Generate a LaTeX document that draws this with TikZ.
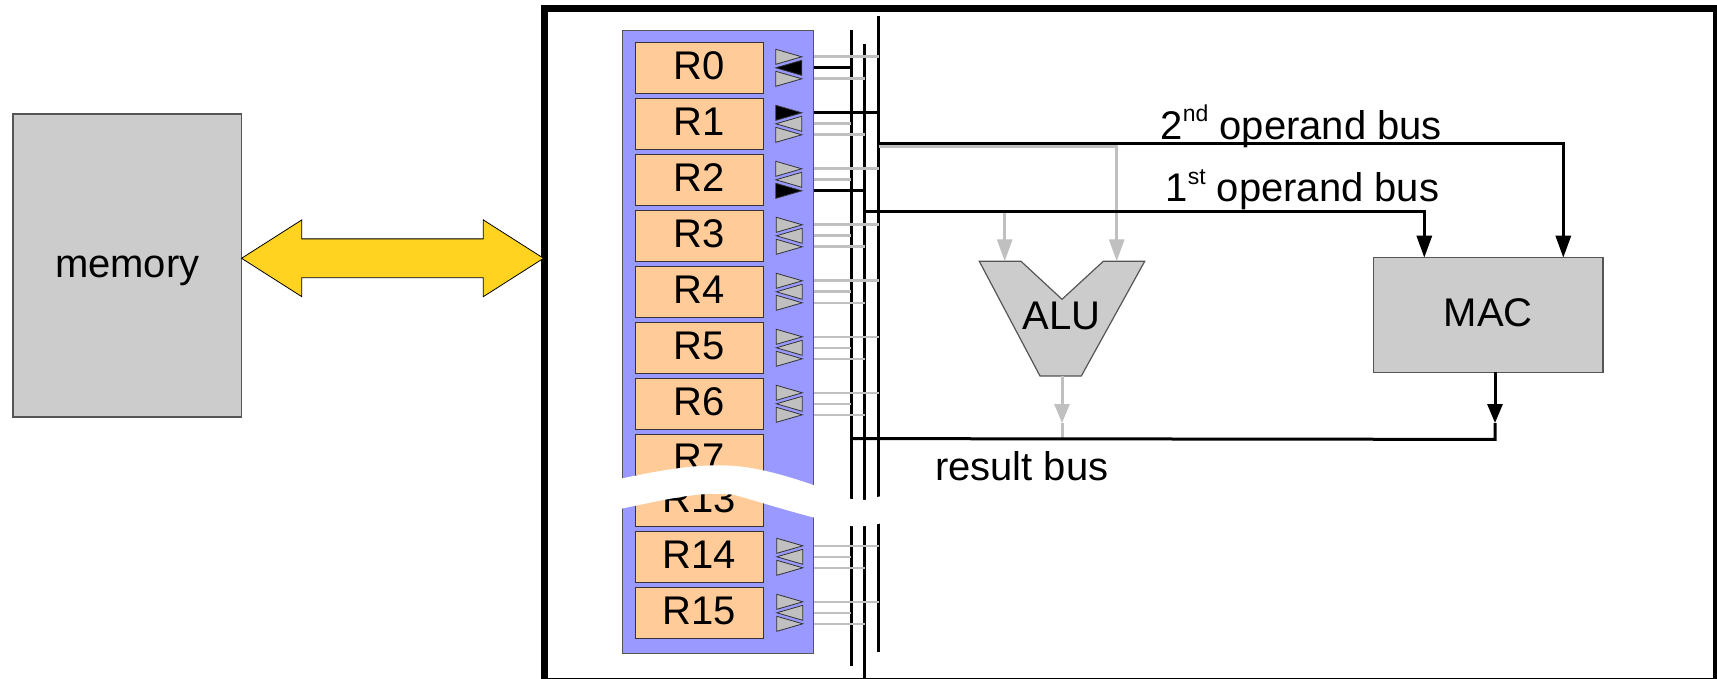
\documentclass[tikz,border=0pt]{standalone}
\usepackage{xcolor}
\usepackage{fontspec}
\setmainfont{Liberation Sans}
\usepackage{tikz}
\usetikzlibrary{positioning, arrows.meta, shapes.geometric, shapes.arrows}
\definecolor{regBlue}{HTML}{9999FF}
\definecolor{regOrange}{HTML}{FFCC99}
\definecolor{unitGray}{HTML}{CCCCCC}
\definecolor{busGray}{HTML}{C0C0C0}
\definecolor{portYellow}{HTML}{FFD320}
\definecolor{edgeGray}{HTML}{555555}

\begin{document}
\begin{tikzpicture}[
      x=1pt, y=-1pt,
      every node/.style={font=\fontsize{40}{48}\selectfont, inner sep=0pt, outer sep=0pt},
      chip/.style={rectangle, draw=black, line width=7pt, minimum width=1172pt, minimum height=672pt},
      unit/.style={rectangle, draw=edgeGray, line width=1.2pt, fill=unitGray},
      regs/.style={rectangle, draw=edgeGray, line width=1pt, fill=regBlue, minimum width=191.3pt, minimum height=623pt},
      reg/.style={rectangle, draw=black!80, line width=1pt, fill=regOrange, minimum width=128pt, minimum height=51pt,
                  text height=29pt, text depth=6.5pt},
      tri/.style={isosceles triangle, isosceles triangle stretches, draw=black!80, line width=0.8pt, fill=busGray,
                  minimum width=15pt, minimum height=26pt},
      trion/.style={tri, fill=black},
      tril/.style={tri, shape border rotate=180},
      trilon/.style={tril, fill=black},
      bus/.style={black, line width=3pt},
      busgray/.style={busGray, line width=3pt},
      wire/.style={busGray, line width=2.6pt},
      wireon/.style={black, line width=2.6pt},
      arr/.style={-{Triangle[length=22pt, width=15pt]}, black, line width=3pt},
      arrlow/.style={arr, -{Triangle[length=19pt, width=15pt]}},
      arrgray/.style={-{Triangle[length=22pt, width=15pt]}, busGray, line width=3pt},
      arrgraylow/.style={arrgray, -{Triangle[length=19pt, width=15pt]}},
      memarrow/.style={double arrow, double arrow head extend=19pt, double arrow tip angle=65, double arrow head indent=0pt,
                       draw=black, line width=0.8pt, fill=portYellow, text height=38pt, text depth=0pt, minimum height=302pt},
    ]
      \useasboundingbox (0,0) rectangle (1717,679);

      \node[chip] (chip) at (1130.4,345) {};
      \node[unit, minimum width=228.5pt, minimum height=303pt, text height=33pt, text depth=9pt] (memory) at (127.3,265.5) {memory};
      \node[memarrow, right=0pt of memory, yshift=7.2pt] (port) {};

      % register block
      \node[regs] (regfile) at (718.3,341.6) {};
      \node[reg] (r0) at (699.3,67.8) {R0};
      \node[reg, below=5pt of r0] (r1) {R1};
      \node[reg, below=5pt of r1] (r2) {R2};
      \node[reg, below=5pt of r2] (r3) {R3};
      \node[reg, below=5pt of r3] (r4) {R4};
      \node[reg, below=5pt of r4] (r5) {R5};
      \node[reg, below=5pt of r5] (r6) {R6};
      \node[reg, below=5pt of r6] (r7) {R7};
      \node[reg, below=-10pt of r7] (r13) {R13};
      \node[reg, below=5pt of r13] (r14) {R14};
      \node[reg, below=5pt of r14] (r15) {R15};

      % the three buses
      \coordinate (busatop) at (851,30);
      \coordinate (busaend) at (851,666);
      \coordinate (busbtop) at (864.7,44);
      \coordinate (busbend) at (864.7,690);
      \coordinate (busctop) at (878.7,16);
      \coordinate (buscend) at (878.7,652);
      \draw[bus] (busatop) -- (busaend);
      \draw[bus] (busbtop) -- (busbend);
      \draw[bus] (busctop) -- (buscend);

      % register outputs
      \node[tri, right=12.5pt of r0.east, yshift=11pt] (t0a) {};
      \node[trilon, right=12.5pt of r0.east] (t0b) {};
      \node[tri, right=12.5pt of r0.east, yshift=-11pt] (t0c) {};
      \node[trion, right=12.5pt of r1.east, yshift=11pt] (t1a) {};
      \node[tril, right=12.5pt of r1.east] (t1b) {};
      \node[tri, right=12.5pt of r1.east, yshift=-11pt] (t1c) {};
      \node[tri, right=12.5pt of r2.east, yshift=11pt] (t2a) {};
      \node[tril, right=12.5pt of r2.east] (t2b) {};
      \node[trion, right=12.5pt of r2.east, yshift=-11pt] (t2c) {};
      \node[tri, right=13pt of r3.east, yshift=11pt] (t3a) {};
      \node[tril, right=13pt of r3.east] (t3b) {};
      \node[tri, right=13pt of r3.east, yshift=-11pt] (t3c) {};
      \node[tri, right=13pt of r4.east, yshift=11pt] (t4a) {};
      \node[tril, right=13pt of r4.east] (t4b) {};
      \node[tri, right=13pt of r4.east, yshift=-11pt] (t4c) {};
      \node[tri, right=13pt of r5.east, yshift=11pt] (t5a) {};
      \node[tril, right=13pt of r5.east] (t5b) {};
      \node[tri, right=13pt of r5.east, yshift=-11pt] (t5c) {};
      \node[tri, right=13pt of r6.east, yshift=11pt] (t6a) {};
      \node[tril, right=13pt of r6.east] (t6b) {};
      \node[tri, right=13pt of r6.east, yshift=-11pt] (t6c) {};
      \node[tri, right=13.5pt of r14.east, yshift=11pt] (t14a) {};
      \node[tril, right=13.5pt of r14.east] (t14b) {};
      \node[tri, right=13.5pt of r14.east, yshift=-11pt] (t14c) {};
      \node[tri, right=13.5pt of r15.east, yshift=11pt] (t15a) {};
      \node[tril, right=13.5pt of r15.east] (t15b) {};
      \node[tri, right=13.5pt of r15.east, yshift=-11pt] (t15c) {};

      % wires to the buses, grey first
      \draw[wire] (regfile.east |- t0a) -- (busctop |- t0a) (regfile.east |- t0c) -- (busbtop |- t0c);
      \draw[wire] (regfile.east |- t1b) -- (busatop |- t1b) (regfile.east |- t1c) -- (busbtop |- t1c);
      \draw[wire] (regfile.east |- t2a) -- (busctop |- t2a) (regfile.east |- t2b) -- (busatop |- t2b);
      \draw[wire] (regfile.east |- t3a) -- (busctop |- t3a) (regfile.east |- t3b) -- (busatop |- t3b) (regfile.east |- t3c) -- (busbtop |- t3c);
      \draw[wire] (regfile.east |- t4a) -- (busctop |- t4a) (regfile.east |- t4b) -- (busatop |- t4b) (regfile.east |- t4c) -- (busbtop |- t4c);
      \draw[wire] (regfile.east |- t5a) -- (busctop |- t5a) (regfile.east |- t5b) -- (busatop |- t5b) (regfile.east |- t5c) -- (busbtop |- t5c);
      \draw[wire] (regfile.east |- t6a) -- (busctop |- t6a) (regfile.east |- t6b) -- (busatop |- t6b) (regfile.east |- t6c) -- (busbtop |- t6c);
      \draw[wire] (regfile.east |- t14a) -- (busctop |- t14a) (regfile.east |- t14b) -- (busatop |- t14b) (regfile.east |- t14c) -- (busbtop |- t14c);
      \draw[wire] (regfile.east |- t15a) -- (busctop |- t15a) (regfile.east |- t15b) -- (busatop |- t15b) (regfile.east |- t15c) -- (busbtop |- t15c);
      \draw[wireon] (regfile.east |- t0b) -- (busatop |- t0b);
      \draw[wireon] (regfile.east |- t1a) -- (busctop |- t1a);
      \draw[wireon] (regfile.east |- t2c) -- (busbtop |- t2c);

      % ALU
      \draw[unit] (979.3,261.3) -- (1021,261.3) -- (1062,299.3) -- (1103.3,261.3) -- (1144.7,261.3)
                  -- (1081.3,376) -- (1040,376) -- cycle;
      \node (alu) at (1061.7,315.7) {ALU};
      \node[unit, minimum width=229.6pt, minimum height=114.6pt, text height=29pt, text depth=6pt] (mac) at (1488.2,315) {MAC};

      % operand and result buses
      \coordinate (opa) at (864.7,211.3);
      \coordinate (opb) at (878.7,143.3);
      \coordinate (opbgray) at (878.7,146.7);
      \coordinate (alua) at (1004.7,261.3);
      \coordinate (alub) at (1116.7,261.3);
      \coordinate (aluout) at (1062,376);
      \coordinate (alutip) at (1062,423);
      \coordinate (resstart) at (851,438.6);
      \coordinate (resend) at (1495,439.4);
      \coordinate (maca) at (1424.3,257.7);
      \coordinate (macb) at (1563.3,257.7);
      \coordinate (mactip) at (1495,423);
      \draw[arrgray] (opbgray) -| (alub);
      \draw[arrgray] (alua |- opa) -- (alua);
      \draw[arrgraylow] (aluout) -- (alutip);
      \draw[busgray] (alutip) -- (alutip |- resstart);
      \draw[arr] (opb) -| (macb);
      \draw[arr] (opa) -| (maca);
      \draw[arrlow] (mac.south -| mactip) -- (mactip);
      \draw[bus] (resstart) -- (resend) -- (mactip);

      \node[anchor=base west] (oplabelb) at (1160.7,139.3) {2\raisebox{17.5pt}{\fontsize{23}{23}\selectfont nd} operand bus};
      \node[anchor=base west] (oplabela) at (1165.5,201.7) {1\raisebox{17.5pt}{\fontsize{23}{23}\selectfont st} operand bus};
      \node[anchor=base west] (reslabel) at (935,480) {result bus};

      % break through the block and the buses
      \fill[white] (610,481) .. controls (660,470) and (700,463) .. (735,466)
                   .. controls (770,469) and (810,483) .. (851,499)
                   -- (865,500) -- (890,494) -- (890,522) -- (865,526) -- (851,526)
                   .. controls (810,518) and (770,505) .. (735,495)
                   .. controls (700,490) and (660,501) .. (610,511) -- cycle;
\end{tikzpicture}
\end{document}
